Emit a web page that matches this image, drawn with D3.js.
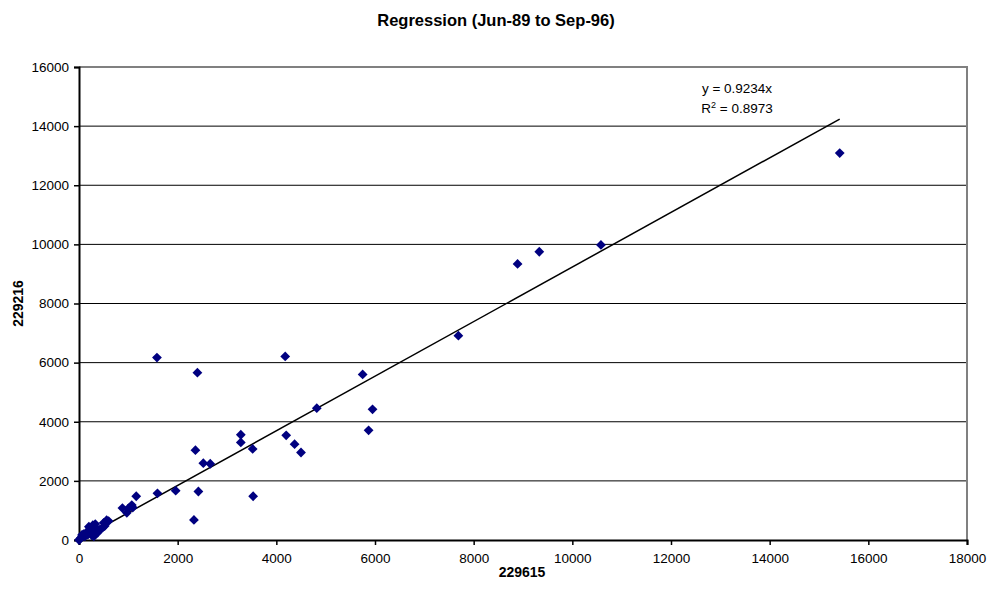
<!DOCTYPE html>
<html>
<head>
<meta charset="utf-8">
<script src="https://cdn.jsdelivr.net/npm/d3@7"></script>
<style>
  body { margin: 0; background: #fff; }
  text { font-family: "Liberation Sans", Arial, sans-serif; }
</style>
</head>
<body>
<svg id="chart" width="988" height="589"></svg>
<script>
const chartTitle = "Regression (Jun-89 to Sep-96)";
const xLabel = "229615";
const yLabel = "229216";
const xTicks = [0, 2000, 4000, 6000, 8000, 10000, 12000, 14000, 16000, 18000];
const yTicks = [0, 2000, 4000, 6000, 8000, 10000, 12000, 14000, 16000];
const slope = 0.9234;
const rSquared = "0.8973";

// x values (229615) and y values (229216)
const xs = [0, 20, 40, 60, 90, 120, 150, 180, 200, 230, 260, 280, 300, 330, 350, 380, 420, 480, 500, 520, 560, 600,
  880, 970, 1000, 1070, 1090, 1160, 1580, 1590, 1960, 2330, 2360, 2400, 2420, 2520, 2660,
  3280, 3280, 3520, 3530, 4180, 4200, 4370, 4500, 4820, 5750, 5870, 5950,
  7690, 8890, 9330, 10580, 15420];
const ys = [0, 30, 80, 170, 200, 120, 260, 180, 450, 300, 160, 500, 120, 540, 400, 250, 350, 420, 580, 470, 670, 640,
  1080, 920, 1070, 1180, 1100, 1480, 6170, 1580, 1670, 680, 3040, 5660, 1640, 2600, 2580,
  3560, 3300, 3080, 1480, 6210, 3540, 3240, 2960, 4460, 5600, 3710, 4420,
  6910, 9340, 9750, 9980, 13090];

const svg = d3.select("#chart");
const m = {left: 79, right: 967, top: 67, bottom: 540};

const x = d3.scaleLinear().domain([0, 18000]).range([m.left, m.right]);
const y = d3.scaleLinear().domain([0, 16000]).range([m.bottom, m.top]);

// gridlines
svg.append("g").selectAll("line").data(yTicks.slice(1, -1)).enter().append("line")
  .attr("x1", m.left).attr("x2", m.right)
  .attr("y1", d => y(d)).attr("y2", d => y(d))
  .attr("stroke", "#000").attr("stroke-width", 1);

// plot border top/right in grey
svg.append("path")
  .attr("d", `M${m.left},${m.top}H${m.right}V${m.bottom}`)
  .attr("fill", "none").attr("stroke", "#808080").attr("stroke-width", 2);

// axes
const xAxis = svg.append("g").attr("transform", `translate(0,${m.bottom})`)
  .call(d3.axisBottom(x).tickValues(xTicks).tickSize(5).tickPadding(8).tickFormat(d3.format("d")));
const yAxis = svg.append("g").attr("transform", `translate(${m.left},0)`)
  .call(d3.axisLeft(y).tickValues(yTicks).tickSize(5).tickPadding(5).tickFormat(d3.format("d")));
[xAxis, yAxis].forEach(a => {
  a.select(".domain").attr("stroke", "#000").attr("stroke-width", 2);
  a.selectAll(".tick line").attr("stroke", "#000").attr("stroke-width", 1.5);
  a.selectAll("text").attr("fill", "#000").style("font-size", "13.5px")
    .style("font-family", "'Liberation Sans', Arial, sans-serif");
});

// trend line
const xMax = d3.max(xs);
svg.append("line")
  .attr("x1", x(0)).attr("y1", y(0))
  .attr("x2", x(xMax)).attr("y2", y(slope * xMax))
  .attr("stroke", "#000").attr("stroke-width", 1.5);

// points
const pts = xs.map((v, i) => [v, ys[i]]);
svg.append("g").selectAll("path").data(pts).enter().append("path")
  .attr("d", d3.symbol(d3.symbolSquare).size(48))
  .attr("transform", d => `translate(${x(d[0])},${y(d[1])}) rotate(45)`)
  .attr("fill", "#000080");

// equation
const eq = svg.append("text").attr("x", 737).attr("y", 93)
  .attr("text-anchor", "middle").style("font-size", "13.5px").text(`y = ${slope}x`);
const r2 = svg.append("text").attr("x", 737).attr("y", 113)
  .attr("text-anchor", "middle").style("font-size", "13.5px");
r2.append("tspan").text("R");
r2.append("tspan").attr("dy", -5).style("font-size", "9px").text("2");
r2.append("tspan").attr("dy", 5).text(` = ${rSquared}`);

// titles
svg.append("text").attr("x", 496).attr("y", 26).attr("text-anchor", "middle")
  .style("font-size", "16.5px").style("font-weight", "bold").text(chartTitle);
svg.append("text").attr("x", 522).attr("y", 577).attr("text-anchor", "middle")
  .style("font-size", "14px").style("font-weight", "bold").text(xLabel);
svg.append("text").attr("transform", `translate(23,${(m.top + m.bottom) / 2}) rotate(-90)`)
  .attr("text-anchor", "middle")
  .style("font-size", "14px").style("font-weight", "bold").text(yLabel);
</script>
</body>
</html>
